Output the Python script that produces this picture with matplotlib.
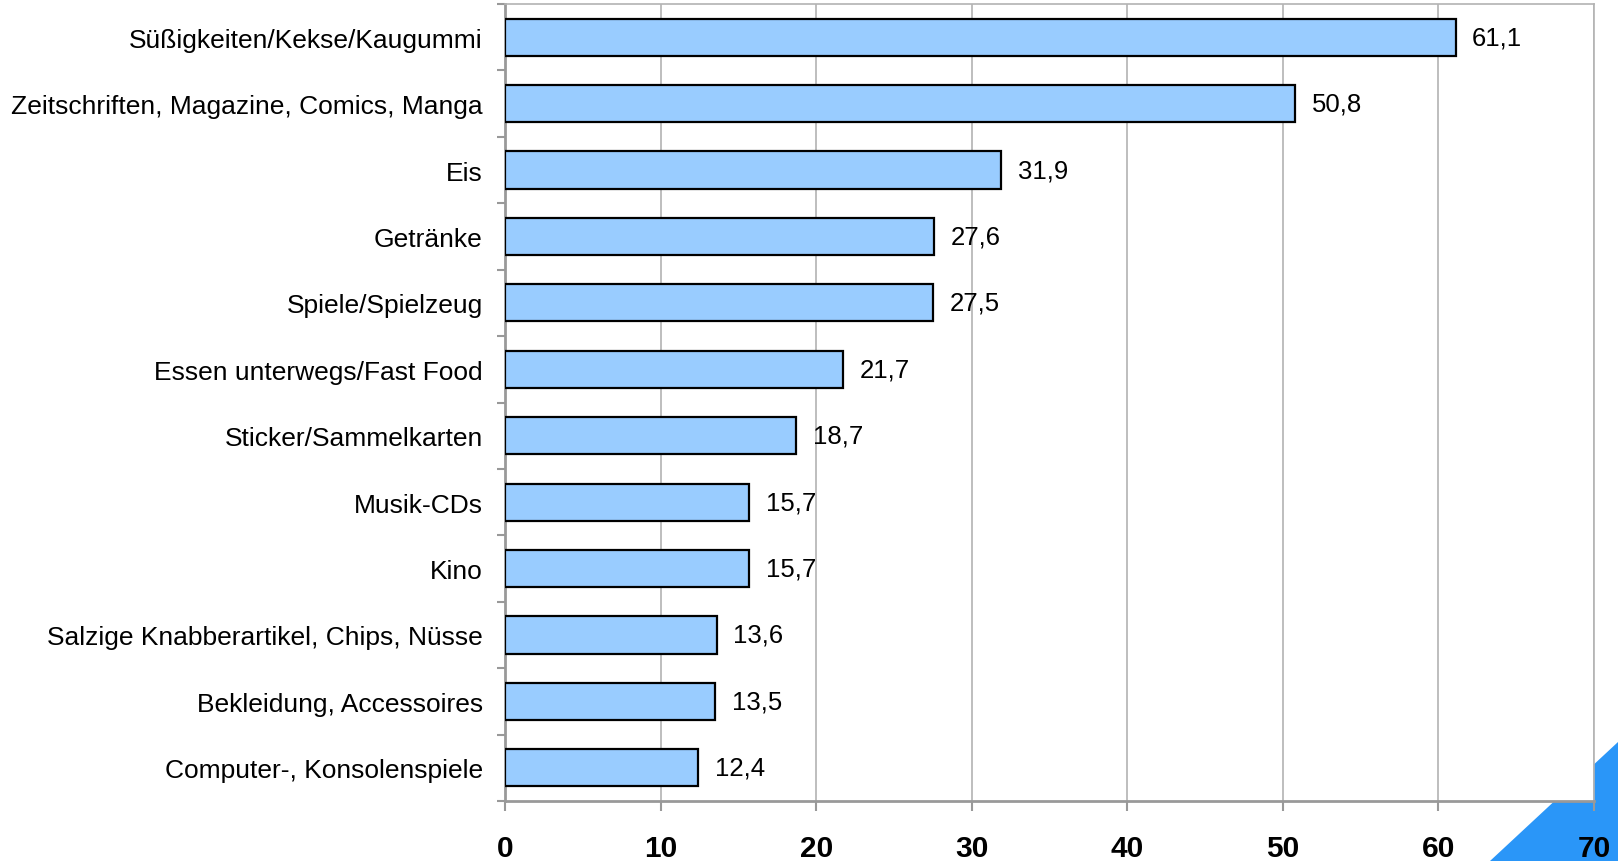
import matplotlib
matplotlib.use("Agg")
import matplotlib.pyplot as plt
from matplotlib.patches import Polygon

categories = [
    "Süßigkeiten/Kekse/Kaugummi",
    "Zeitschriften, Magazine, Comics, Manga",
    "Eis",
    "Getränke",
    "Spiele/Spielzeug",
    "Essen unterwegs/Fast Food",
    "Sticker/Sammelkarten",
    "Musik-CDs",
    "Kino",
    "Salzige Knabberartikel, Chips, Nüsse",
    "Bekleidung, Accessoires",
    "Computer-, Konsolenspiele",
]
values = [61.1, 50.8, 31.9, 27.6, 27.5, 21.7, 18.7, 15.7, 15.7, 13.6, 13.5, 12.4]
value_labels = ["61,1", "50,8", "31,9", "27,6", "27,5", "21,7", "18,7", "15,7", "15,7", "13,6", "13,5", "12,4"]
x_ticks = [0, 10, 20, 30, 40, 50, 60, 70]

plt.rcParams['font.family'] = ['Liberation Sans', 'DejaVu Sans']

W, H = 1618, 862
fig = plt.figure(figsize=(W / 100, H / 100), dpi=100)
ax = fig.add_axes([505 / W, 60 / H, (1594 - 505) / W, (857 - 60) / H])

n = len(categories)
pos = list(range(n))
ax.barh(pos, values, height=0.56, color="#99CCFF", edgecolor="black", linewidth=1.6, zorder=3)

ax.set_xlim(0, 70)
ax.set_ylim(n - 0.5, -0.5)

ax.set_xticks(x_ticks)
ax.set_xticklabels([str(t) for t in x_ticks], fontsize=21.5, fontweight="bold")
ax.tick_params(axis="x", length=7.5, width=1.5, color="#999999", pad=16)

ax.set_yticks(pos)
ax.set_yticklabels(categories, fontsize=19)
ax.tick_params(axis="y", which="major", length=0, pad=16)
ax.set_yticks([i - 0.5 for i in range(n + 1)], minor=True)
ax.tick_params(axis="y", which="minor", length=6, width=1.5, color="#999999")

ax.grid(axis="x", color="#b3b3b3", linewidth=1.2, zorder=0)
for side in ["top", "right"]:
    ax.spines[side].set_color("#b3b3b3")
    ax.spines[side].set_linewidth(1.2)
for side in ["left", "bottom"]:
    ax.spines[side].set_color("#999999")
    ax.spines[side].set_linewidth(2)

for p, v, lab in zip(pos, values, value_labels):
    ax.annotate(lab, xy=(v, p), xytext=(12, 0), textcoords="offset points",
                va="center", ha="left", fontsize=18.5, zorder=4)

# decorative corner triangle
tri = Polygon([(1490 / W, 0), (1618 / W, 0), (1618 / W, (862 - 743) / H)],
              closed=True, transform=fig.transFigure, facecolor="#2A96F8",
              edgecolor="none", zorder=-1)
fig.patches.append(tri)

fig.savefig("out.png", dpi=100)
